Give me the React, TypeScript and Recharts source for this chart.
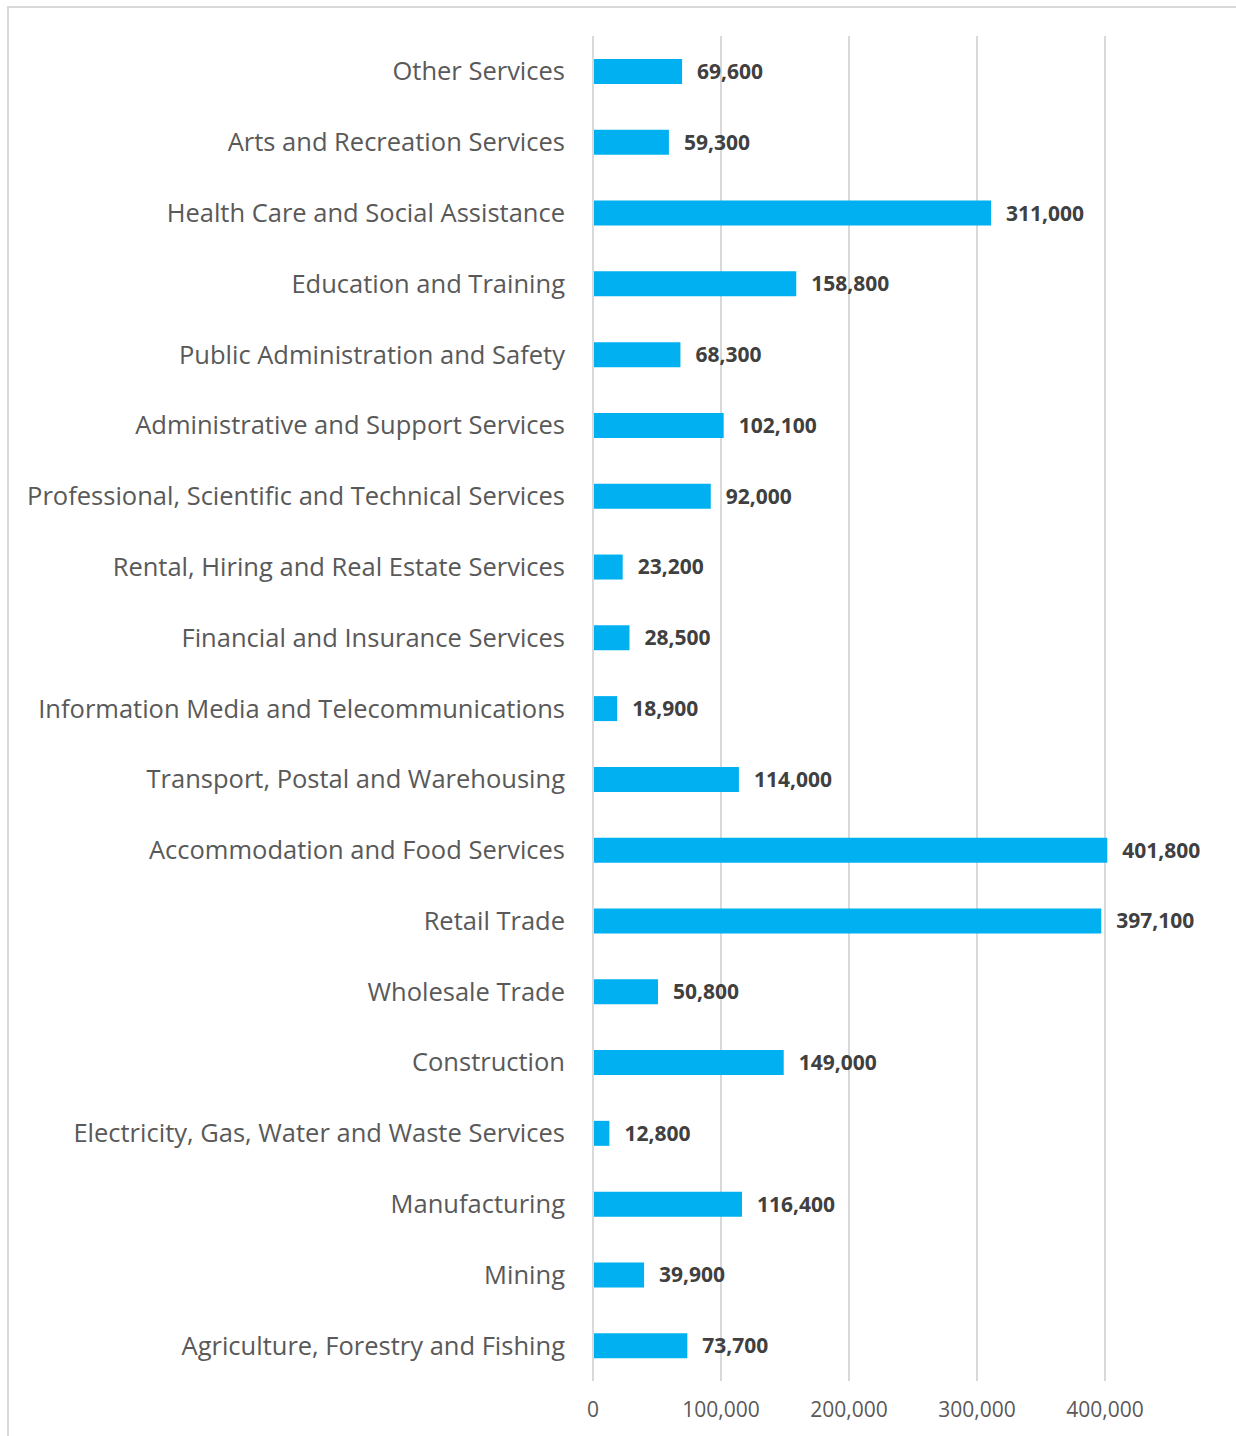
import { BarChart, Bar, XAxis, YAxis, CartesianGrid, LabelList } from "recharts"

const industries = [
  "Other Services",
  "Arts and Recreation Services",
  "Health Care and Social Assistance",
  "Education and Training",
  "Public Administration and Safety",
  "Administrative and Support Services",
  "Professional, Scientific and Technical Services",
  "Rental, Hiring and Real Estate Services",
  "Financial and Insurance Services",
  "Information Media and Telecommunications",
  "Transport, Postal and Warehousing",
  "Accommodation and Food Services",
  "Retail Trade",
  "Wholesale Trade",
  "Construction",
  "Electricity, Gas, Water and Waste Services",
  "Manufacturing",
  "Mining",
  "Agriculture, Forestry and Fishing",
]

const workers = [
  69600, 59300, 311000, 158800, 68300, 102100, 92000, 23200, 28500, 18900,
  114000, 401800, 397100, 50800, 149000, 12800, 116400, 39900, 73700,
]

const xTicks = [0, 100000, 200000, 300000, 400000]

const data = industries.map((name, i) => ({ name, value: workers[i] }))

const fmt = (v: number) => v.toLocaleString("en-US")

const FONT = "'Open Sans', sans-serif"

// the axis runs past the right edge of the frame (like the clipped original),
// so the chart is wider than the visible box
export default function App() {
  return (
    <div
      style={{
        position: "fixed",
        left: 0,
        top: 0,
        width: 1236,
        height: 1436,
        overflow: "hidden",
        background: "#fff",
        fontFamily: FONT,
      }}
    >
      <div
        style={{
          position: "absolute",
          left: 7,
          top: 6,
          width: 1300,
          height: 1500,
          borderTop: "2px solid #d9d9d9",
          borderLeft: "2px solid #d9d9d9",
        }}
      />
      <div style={{ position: "absolute", left: 0, top: 0 }}>
        <BarChart
          width={1364}
          height={1436}
          data={data}
          layout="vertical"
          margin={{ top: 36, right: 3, bottom: 0, left: 0 }}
          barCategoryGap={0}
        >
          <CartesianGrid horizontal={false} stroke="#d9d9d9" strokeWidth={2} />
          <XAxis
            type="number"
            domain={[0, 600000]}
            ticks={xTicks}
            tickFormatter={fmt}
            axisLine={false}
            tickLine={false}
            tickSize={0}
            tickMargin={21}
            height={55}
            tick={{ fill: "#595959", fontSize: 21, fontFamily: FONT }}
          />
          <YAxis
            type="category"
            dataKey="name"
            width={593}
            axisLine={{ stroke: "#d9d9d9", strokeWidth: 2 }}
            tickLine={false}
            tickSize={0}
            tickMargin={28}
            interval={0}
            tick={{ fill: "#595959", fontSize: 25.5, fontFamily: FONT }}
          />
          <Bar dataKey="value" fill="#00b0f0" barSize={25} isAnimationActive={false}>
            <LabelList
              dataKey="value"
              position="right"
              offset={15}
              formatter={(v: unknown) => fmt(Number(v))}
              style={{ fill: "#404040", fontSize: 21, fontWeight: 700, fontFamily: FONT }}
            />
          </Bar>
        </BarChart>
      </div>
    </div>
  )
}
